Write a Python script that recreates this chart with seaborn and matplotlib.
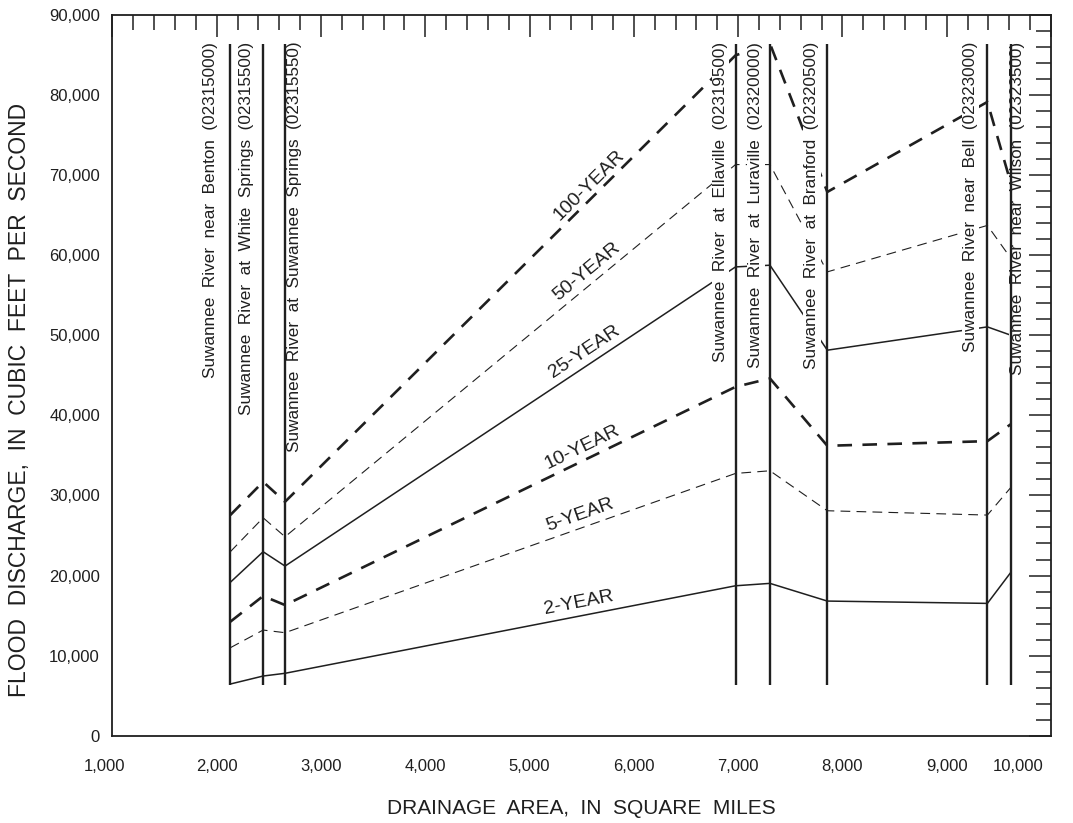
import numpy as np
import pandas as pd
import matplotlib
matplotlib.use("Agg")
import matplotlib.pyplot as plt
import matplotlib.transforms as mtransforms
import seaborn as sns
from matplotlib.ticker import MultipleLocator, FuncFormatter

# Gaging stations along the Suwannee River
stations = [
    "Suwannee  River  near  Benton  (02315000)",
    "Suwannee  River  at  White  Springs  (02315500)",
    "Suwannee  River  at  Suwannee  Springs  (02315550)",
    "Suwannee  River  at  Ellaville  (02319500)",
    "Suwannee  River  at  Luraville  (02320000)",
    "Suwannee  River  at  Branford  (02320500)",
    "Suwannee  River  near  Bell  (02323000)",
    "Suwannee  River  near  Wilson  (02323500)",
]
drainage_area = [2130, 2445, 2655, 6975, 7305, 7855, 9390, 9615]

# Flood discharge (cfs) for each recurrence interval at each station
q2 = [6450, 7450, 7790, 18720, 19020, 16810, 16520, 20400]
q5 = [10980, 13190, 12860, 32750, 33080, 28090, 27550, 31000]
q10 = [14230, 17440, 16310, 43560, 44610, 36200, 36780, 38900]
q25 = [19150, 22970, 21180, 58540, 58750, 48140, 51050, 50010]
q50 = [22970, 27210, 24840, 71320, 71320, 57920, 63720, 59620]
q100 = [27550, 31700, 29210, 84960, 86420, 67900, 79140, 68980]

curve_names = ["2-YEAR", "5-YEAR", "10-YEAR", "25-YEAR", "50-YEAR", "100-YEAR"]

# label anchor points for each curve (drainage area, discharge)
curve_label_x = [5473, 5482, 5504, 5521, 5547, 5569]
curve_label_y = [16530, 27550, 36070, 47930, 57920, 68740]

# station label offset from its line (square miles), negative = left
station_label_dx = [-185, -160, 93, -144, -134, -150, -163, 67]

line_top = 86400
line_bottom = 6300

ink = "#1f1f1f"

sns.set_style("white")
plt.rcParams["font.family"] = ["Liberation Sans", "DejaVu Sans"]
plt.rcParams["lines.scale_dashes"] = False

fig = plt.figure(figsize=(10.73, 8.23), dpi=100)
ax = fig.add_axes([0.1048, 0.1061, 0.8747, 0.8757])

df = pd.DataFrame({"area": drainage_area, "Q2": q2, "Q5": q5, "Q10": q10,
                   "Q25": q25, "Q50": q50, "Q100": q100})

thick_dash = (0, (10.5, 7.5))
thin_dash = (0, (7.0, 4.5))
styles = {
    "Q2": dict(linestyle="-", lw=1.1),
    "Q5": dict(linestyle=thin_dash, lw=0.8),
    "Q10": dict(linestyle=thick_dash, lw=1.9),
    "Q25": dict(linestyle="-", lw=1.1),
    "Q50": dict(linestyle=thin_dash, lw=0.8),
    "Q100": dict(linestyle=thick_dash, lw=1.9),
}
for col, st in styles.items():
    sns.lineplot(data=df, x="area", y=col, ax=ax, color=ink, zorder=2, **st)

ax.set_xlim(1000, 10000)
ax.set_ylim(0, 90000)

# station verticals
ax.vlines(drainage_area, line_bottom, line_top, color=ink, lw=1.7, zorder=4)

for name, xa, dx in zip(stations, drainage_area, station_label_dx):
    ax.text(xa + dx, 86650, name, rotation=90, ha="center", va="top",
            fontsize=12.3, color=ink, zorder=3,
            bbox=dict(facecolor="white", edgecolor="none", pad=1.0))

# curve labels rotated to follow the Suwannee Springs - Ellaville segment
series = [q2, q5, q10, q25, q50, q100]
for name, q, lx, ly in zip(curve_names, series, curve_label_x, curve_label_y):
    p0 = ax.transData.transform((drainage_area[2], q[2]))
    p1 = ax.transData.transform((drainage_area[3], q[3]))
    ang = np.degrees(np.arctan2(p1[1] - p0[1], p1[0] - p0[0]))
    ax.text(lx, ly, name, rotation=ang, rotation_mode="anchor",
            ha="center", va="center", fontsize=14, color=ink, zorder=5)

ax.xaxis.set_major_locator(MultipleLocator(1000))
ax.xaxis.set_minor_locator(MultipleLocator(200))
ax.yaxis.set_major_locator(MultipleLocator(10000))
ax.yaxis.set_minor_locator(MultipleLocator(2000))

# end x labels are drawn by hand, nudged inward
x_end_labels = {1000: ("center", -8), 10000: ("right", -8)}
xfmt = FuncFormatter(lambda v, p: "" if int(round(v)) in x_end_labels else f"{int(v):,}")
ax.xaxis.set_major_formatter(xfmt)
ax.yaxis.set_major_formatter(FuncFormatter(lambda v, p: f"{int(v):,}"))

ax.tick_params(which="both", direction="in", top=True, right=True,
               color=ink, width=1.1, labelsize=12, labelcolor=ink)
ax.tick_params(which="major", length=16)
ax.tick_params(which="minor", length=11)
ax.tick_params(axis="x", which="major", pad=17)
ax.tick_params(axis="y", which="major", pad=9)

for v, (ha, dx) in x_end_labels.items():
    tr = ax.get_xaxis_transform() + mtransforms.ScaledTranslation(
        dx / 100, -17 / 72, fig.dpi_scale_trans)
    ax.text(v, 0, f"{v:,}", transform=tr, ha=ha, va="top", fontsize=12,
            color=ink, clip_on=False)

for sp in ax.spines.values():
    sp.set_color(ink)
    sp.set_linewidth(1.3)

ax.set_xlabel("DRAINAGE  AREA,  IN  SQUARE  MILES", fontsize=15, color=ink,
              labelpad=18)
ax.set_ylabel("FLOOD  DISCHARGE,  IN  CUBIC  FEET  PER  SECOND", fontsize=16.5,
              color=ink)
ax.yaxis.set_label_coords(-0.0868, 0.466)

fig.savefig("out.png", dpi=100)
